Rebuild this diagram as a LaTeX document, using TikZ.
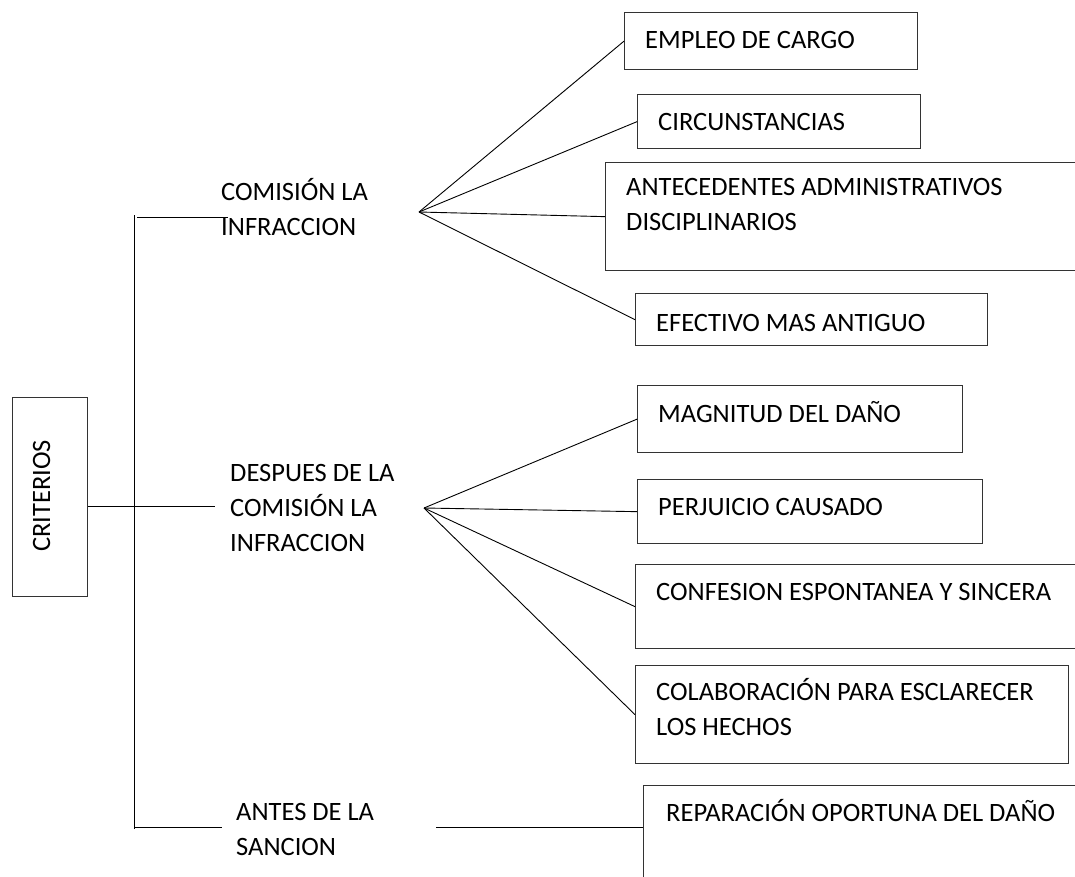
\documentclass[tikz,border=0pt]{standalone}
\usepackage{fontspec}
\setmainfont{Carlito}
\begin{document}
\begin{tikzpicture}[x=1pt,y=-1pt,
  box/.style={draw=black!80, line width=1.3pt, anchor=north west, inner sep=0pt},
  lbl/.style={anchor=base west, inner sep=0pt, align=left, font=\fontsize{26.5}{35}\selectfont},
  conn/.style={draw=black, line width=0.9pt}]
\useasboundingbox (0,0) rectangle (1075,876);
\clip (0,0) rectangle (1075,876);
% boxes
\node[box, minimum width=75pt, minimum height=199pt] (crit) at (12,397) {};
\node[lbl, rotate=90, anchor=base] (critt) at (50,496) {CRITERIOS};
\node[box, minimum width=293pt, minimum height=57pt] (b1) at (624,12) {};
\node[box, minimum width=283pt, minimum height=54pt] (b2) at (637,94) {};
\node[box, minimum width=500pt, minimum height=108pt] (b3) at (605,162) {};
\node[box, minimum width=352pt, minimum height=52pt] (b4) at (635,293) {};
\node[box, minimum width=325pt, minimum height=67pt] (b5) at (637,385) {};
\node[box, minimum width=345pt, minimum height=64pt] (b6) at (637,479) {};
\node[box, minimum width=500pt, minimum height=84pt] (b7) at (635,564) {};
\node[box, minimum width=433pt, minimum height=98pt] (b8) at (635,665) {};
\node[box, minimum width=500pt, minimum height=200pt] (b9) at (643,785) {};
% box texts (multi-line nodes anchored at the baseline of their last line)
\node[lbl] (t1) at (645,48) {EMPLEO DE CARGO};
\node[lbl] (t2) at (658,130) {CIRCUNSTANCIAS};
\node[lbl] (t3) at (626,230) {ANTECEDENTES ADMINISTRATIVOS\\DISCIPLINARIOS};
\node[lbl] (t4) at (656,331) {EFECTIVO MAS ANTIGUO};
\node[lbl] (t5) at (658,422) {MAGNITUD DEL DAÑO};
\node[lbl] (t6) at (658,515) {PERJUICIO CAUSADO};
\node[lbl] (t7) at (656,600) {CONFESION ESPONTANEA Y SINCERA};
\node[lbl] (t8) at (656,735) {COLABORACIÓN PARA ESCLARECER\\LOS HECHOS};
\node[lbl] (t9) at (666,821) {REPARACIÓN OPORTUNA DEL DAÑO};
% category labels
\node[lbl] (c1) at (221,235) {COMISIÓN LA\\INFRACCION};
\node[lbl] (c2) at (230,551) {DESPUES DE LA\\COMISIÓN LA\\INFRACCION};
\node[lbl] (c3) at (236,855) {ANTES DE LA\\SANCION};
% coordinates
\coordinate (tt) at (134,215);
\coordinate (tb) at (134,829);
\coordinate (h1a) at (137,217);
\coordinate (h1b) at (228,217);
\coordinate (m1) at (88,506);
\coordinate (m2) at (215,506);
\coordinate (h3a) at (135,827);
\coordinate (h3b) at (222,827);
\coordinate (h3c) at (436,827);
\coordinate (f1) at (419,212);
\coordinate (f2) at (424,508);
% connectors
\draw[conn] (tt) -- (tb);
\draw[conn] (h1a) -- (h1b);
\draw[conn] (m1) -- (m2);
\draw[conn] (h3a) -- (h3b);
\draw[conn] (h3c) -- (h3c -| b9.west);
\foreach \b in {b1,b2,b3,b4} \draw[conn] (f1) -- (\b.west);
\foreach \b in {b5,b6,b7,b8} \draw[conn] (f2) -- (\b.west);
\end{tikzpicture}
\end{document}
